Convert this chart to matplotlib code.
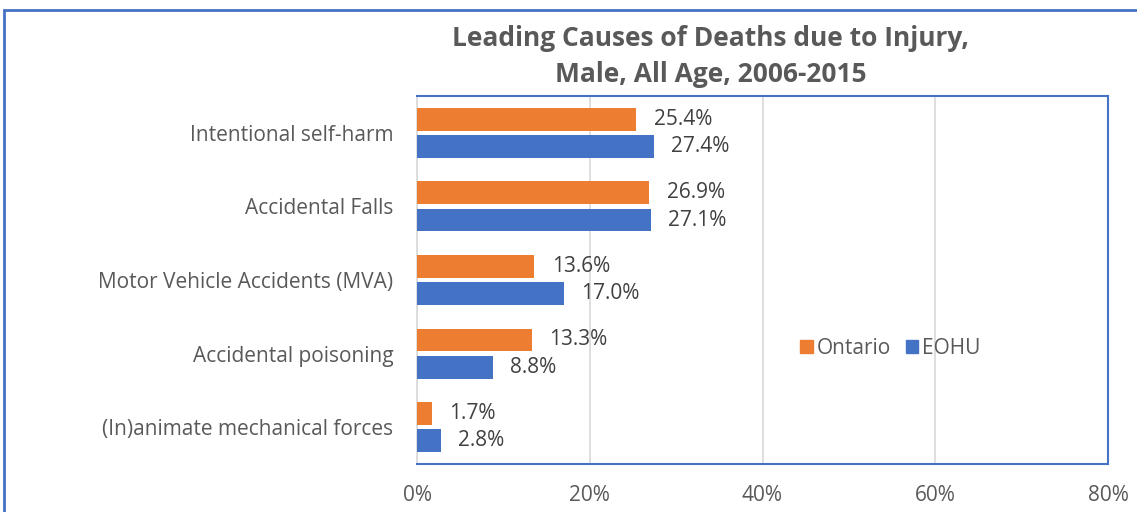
import matplotlib
matplotlib.use("Agg")
import matplotlib.pyplot as plt
from matplotlib.patches import Rectangle, Patch
import numpy as np

categories = ["Intentional self-harm", "Accidental Falls", "Motor Vehicle Accidents (MVA)",
              "Accidental poisoning", "(In)animate mechanical forces"]
ontario = [25.4, 26.9, 13.6, 13.3, 1.7]
eohu = [27.4, 27.1, 17.0, 8.8, 2.8]
xticks = [0, 20, 40, 60, 80]
xtick_labels = ["0%", "20%", "40%", "60%", "80%"]

ORANGE = "#ED7D31"
BLUE = "#4472C4"
GRAY = "#595959"
DARK = "#404040"

plt.rcParams['font.family'] = ['Open Sans', 'DejaVu Sans']

W, H = 1137, 512
fig = plt.figure(figsize=(W/100, H/100), dpi=100)
ax = fig.add_axes([417/W, 1-464/H, (1108-417)/W, (464-96)/H])

y = np.arange(len(categories))
off = 0.185
h = 0.31
ax.barh(y - off, ontario, height=h, color=ORANGE, label="Ontario", zorder=3)
ax.barh(y + off, eohu, height=h, color=BLUE, label="EOHU", zorder=3)

for yi, v in zip(y, ontario):
    ax.text(v + 2.0, yi - off, f"{v:.1f}%", va="center", ha="left", fontsize=15, color=DARK)
for yi, v in zip(y, eohu):
    ax.text(v + 2.0, yi + off, f"{v:.1f}%", va="center", ha="left", fontsize=15, color=DARK)

ax.set_ylim(len(categories) - 0.5, -0.5)
ax.set_xlim(0, 80)
ax.set_yticks(y)
ax.set_yticklabels(categories, fontsize=15, color=GRAY)
ax.set_xticks(xticks)
ax.set_xticklabels(xtick_labels, fontsize=15, color=GRAY)
ax.tick_params(axis="both", length=0)
ax.tick_params(axis="x", pad=15)
ax.tick_params(axis="y", pad=17)
ax.grid(axis="x", color="#D9D9D9", linewidth=1.2, zorder=0)
for s in ["top", "right", "bottom"]:
    ax.spines[s].set_color(BLUE)
    ax.spines[s].set_linewidth(1.5)
ax.spines["left"].set_color("#D9D9D9")
ax.spines["left"].set_linewidth(1.2)

handles = [Patch(color=ORANGE, label="Ontario"), Patch(color=BLUE, label="EOHU")]
leg = ax.legend(handles=handles, loc="center", bbox_to_anchor=(0.685, 0.315), ncol=2,
                frameon=False, fontsize=15, handlelength=0.6, handleheight=0.6,
                handletextpad=0.2, columnspacing=0.7)
for t in leg.get_texts():
    t.set_color(GRAY)

fig.text(711/W, 1-39/H, "Leading Causes of Deaths due to Injury,", ha="center", va="center",
         fontsize=19, fontweight="bold", color=GRAY)
fig.text(711/W, 1-74/H, "Male, All Age, 2006-2015", ha="center", va="center",
         fontsize=19, fontweight="bold", color=GRAY)

fig.patches.append(Rectangle((4/W, -0.1), 1.2, 1.1 - 10/H, transform=fig.transFigure,
                             fill=False, edgecolor=BLUE, linewidth=2, zorder=0))

fig.savefig("out.png", dpi=100)
